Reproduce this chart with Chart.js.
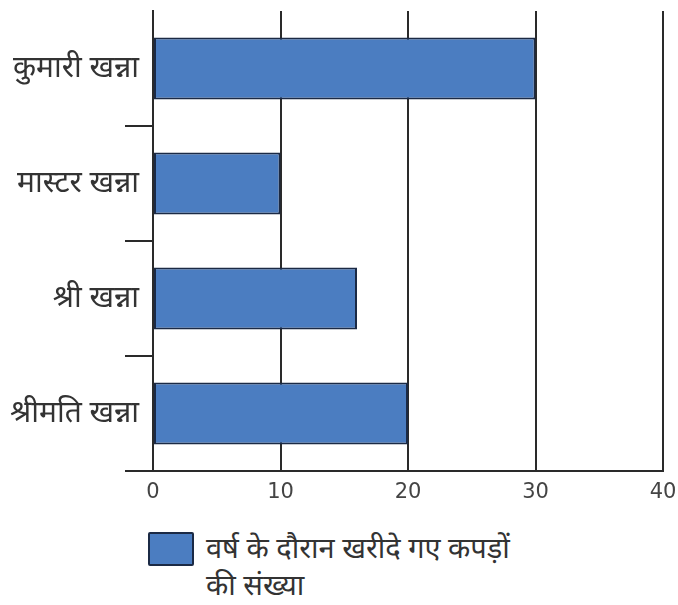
<!DOCTYPE html>
<html>
<head>
<meta charset="utf-8">
<script src="https://cdn.jsdelivr.net/npm/chart.js@4.4.1/dist/chart.umd.min.js"></script>
<style>
  html, body { margin: 0; padding: 0; background: #fff; }
  #wrap { position: relative; width: 678px; height: 605px; }
  #chartBox { position: absolute; left: 0; top: 0; width: 678px; height: 520px; }
  #legend { position: absolute; left: 148px; top: 531px; display: flex; align-items: flex-start;
            font-family: "Noto Sans", "DejaVu Sans", sans-serif; font-size: 29px; color: #333; }
  #legend .box { width: 42px; height: 30px; border: 2px solid #1b2a45; border-radius: 2px;
                 background: #4b7dc1; flex: none; margin-top: 1px; }
  #legend .txt { margin-left: 12px; width: 330px; line-height: 37px; margin-top: -3px; }
</style>
</head>
<body>
<div id="wrap">
  <div id="chartBox"><canvas id="chart"></canvas></div>
  <div id="legend"></div>
</div>
<script>
// ----------------------------------------------------------------------------
// Data
// ----------------------------------------------------------------------------
const categories = ['कुमारी खन्ना', 'मास्टर खन्ना', 'श्री खन्ना', 'श्रीमति खन्ना'];
const clothesBought = [30, 10, 16, 20];
const seriesLabel = 'वर्ष के दौरान खरीदे गए कपड़ों की संख्या';
const xTicks = [0, 10, 20, 30, 40];

const BAR_FILL = '#4b7dc1';
const BAR_EDGE = '#1b2a45';
const LINE = '#2a2a2a';
const FONT = '"Noto Sans", "DejaVu Sans", sans-serif';

const chart = new Chart(document.getElementById('chart').getContext('2d'), {
  type: 'bar',
  data: {
    labels: categories,
    datasets: [{
      label: seriesLabel,
      data: clothesBought,
      backgroundColor: BAR_FILL,
      borderColor: BAR_EDGE,
      borderWidth: 2,
      borderSkipped: false,
      categoryPercentage: 1,
      barPercentage: 0.54
    }]
  },
  options: {
    indexAxis: 'y',
    responsive: true,
    maintainAspectRatio: false,
    animation: false,
    layout: { padding: { top: 11, right: 15, left: 0, bottom: 0 } },
    plugins: {
      legend: { display: false },
      tooltip: { enabled: false }
    },
    scales: {
      x: {
        min: 0,
        max: 40,
        afterBuildTicks: (scale) => { scale.ticks = xTicks.map(v => ({ value: v })); },
        afterFit: (scale) => {
          scale.height = 49;
          // keep the plot edge fixed, the "40" label may hang over the padding
          scale.paddingLeft = 0;
          scale.paddingRight = 0;
        },
        grid: { color: LINE, lineWidth: 2, drawTicks: false },
        border: { display: true, color: LINE, width: 2 },
        ticks: {
          padding: 9,
          color: '#444',
          font: { family: '"DejaVu Sans", Verdana, sans-serif', size: 21 }
        }
      },
      y: {
        afterFit: (scale) => { scale.width = 153; },
        grid: {
          offset: true,
          drawOnChartArea: false,
          drawTicks: true,
          tickLength: 28,
          lineWidth: 2,
          // no tick at the very top boundary
          color: (ctx) => (ctx.index === 0 ? 'rgba(0,0,0,0)' : LINE)
        },
        border: { display: true, color: LINE, width: 2 },
        ticks: {
          padding: -14,
          color: '#333',
          font: { family: FONT, size: 30 }
        }
      }
    }
  }
});

// HTML legend (label wraps over two lines)
const legendEl = document.getElementById('legend');
chart.data.datasets.forEach(ds => {
  const box = document.createElement('span');
  box.className = 'box';
  box.style.background = ds.backgroundColor;
  const txt = document.createElement('span');
  txt.className = 'txt';
  txt.textContent = ds.label;
  legendEl.appendChild(box);
  legendEl.appendChild(txt);
});
</script>
</body>
</html>
